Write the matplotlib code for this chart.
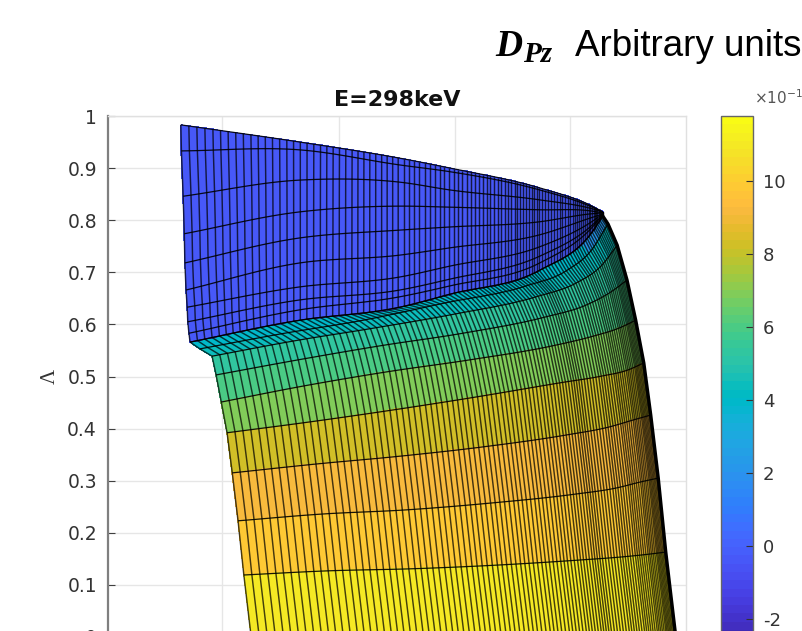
import numpy as np
import matplotlib
matplotlib.use("Agg")
import matplotlib.pyplot as plt
from matplotlib.colors import ListedColormap

# --- values -----------------------------------------------------------
TITLE = "E=298keV"
Y_TICKS = [0, 0.1, 0.2, 0.3, 0.4, 0.5, 0.6, 0.7, 0.8, 0.9, 1]
Y_LABELS = ["0", "0.1", "0.2", "0.3", "0.4", "0.5", "0.6", "0.7", "0.8", "0.9", "1"]
CB_TICKS = [-2, 0, 2, 4, 6, 8, 10]
CMIN, CMAX = -2.75, 11.78

# column positions along each mesh row
columns = [0, .019, .038, .057, .076, .094, .112, .130, .148, .166, .183, .200, .217, .234, .251,
           .267, .283, .299, .315, .331, .346, .361, .376, .391, .406, .420, .434, .448, .462,
           .476, .489, .502, .515, .528, .541, .553, .565, .577, .589, .601, .612, .623, .634,
           .645, .656, .666, .676, .686, .696, .706, .715, .724, .733, .742, .751, .759, .767,
           .775, .783, .791, .798, .805, .812, .819, .826, .832, .838, .844, .850, .857, .864,
           .871, .878, .885, .892, .898, .904, .910, .916, .922, .928, .933, .938, .943, .948,
           .953, .958, .962, .966, .970, .974, .978, .981, .984, .987, .990, .993, .996, .998, 1.0]

# upper (blue) sheet: Lambda of every mesh row at the knots
upper_knots = [0, .282, .519, .637, .851, .969, 1]
upper_x_inner = [.332, .505, .592, .747, .834, .856]
upper_x_left = [.126, .127, .130, .132, .133, .135, .137, .138, .140, .142]
upper_rows = [
    [.983, .950, .919, .900, .862, .829, .816],
    [.933, .935, .906, .893, .858, .827, .816],
    [.846, .877, .873, .858, .839, .823, .816],
    [.774, .816, .827, .825, .820, .818, .814],
    [.718, .766, .781, .787, .797, .812, .814],
    [.666, .718, .733, .747, .772, .804, .812],
    [.633, .672, .691, .712, .749, .795, .812],
    [.605, .647, .666, .687, .731, .787, .810],
    [.583, .628, .653, .674, .718, .782, .810],
    [.566, .608, .633, .658, .704, .772, .808],
]
upper_value = -0.35

# lower (coloured) sheet
lower_knots = [0, .2, .4, .6, .8, .9, .96, 1]
lower_x_left = [.142, .159, .180, .187, .196, .206, .215, .225, .235, .249]
lower_x_right = [.856, .865, .881, .898, .913, .927, .939, .952, .965, .983]
lower_rows = [
    [.566, .595, .622, .656, .689, .724, .768, .808],
    [.553, .582, .608, .641, .674, .704, .743, .793],
    [.539, .568, .593, .620, .653, .680, .712, .752],
    [.503, .532, .559, .583, .614, .637, .662, .685],
    [.451, .482, .509, .532, .559, .578, .593, .608],
    [.392, .413, .436, .461, .488, .501, .512, .526],
    [.315, .332, .347, .365, .388, .403, .417, .426],
    [.223, .236, .244, .257, .274, .286, .298, .305],
    [.119, .127, .131, .138, .148, .154, .159, .163],
    [-.012, -.010, -.009, -.008, -.007, -.006, -.006, -.006],
]
lower_band_values = [3.9, 4.3, 5.4, 6.0, 6.85, 8.3, 9.1, 9.9, 11.0]
tip_sliver_value = 2.2

parula = ListedColormap([
    (.2422, .1504, .6603), (.2504, .1650, .7076), (.2578, .1818, .7511), (.2647, .1978, .7952),
    (.2706, .2147, .8364), (.2751, .2342, .8710), (.2783, .2559, .8991), (.2803, .2782, .9221),
    (.2813, .3006, .9414), (.2810, .3228, .9579), (.2795, .3447, .9717), (.2760, .3667, .9829),
    (.2699, .3892, .9906), (.2602, .4123, .9952), (.2440, .4358, .9988), (.2206, .4603, .9973),
    (.1963, .4847, .9892), (.1834, .5074, .9798), (.1786, .5289, .9682), (.1764, .5499, .9520),
    (.1687, .5703, .9359), (.1540, .5902, .9218), (.1460, .6091, .9079), (.1380, .6276, .8973),
    (.1248, .6459, .8883), (.1113, .6635, .8763), (.0952, .6798, .8598), (.0689, .6948, .8394),
    (.0297, .7082, .8163), (.0036, .7203, .7917), (.0067, .7312, .7660), (.0433, .7411, .7394),
    (.0964, .7500, .7120), (.1408, .7584, .6842), (.1717, .7670, .6554), (.1938, .7758, .6251),
    (.2161, .7843, .5923), (.2470, .7918, .5567), (.2906, .7973, .5188), (.3406, .8008, .4789),
    (.3909, .8029, .4354), (.4456, .8024, .3909), (.5044, .7993, .3480), (.5616, .7942, .3045),
    (.6174, .7876, .2612), (.6720, .7793, .2227), (.7242, .7698, .1910), (.7738, .7598, .1646),
    (.8203, .7498, .1535), (.8634, .7406, .1596), (.9035, .7330, .1774), (.9393, .7288, .2100),
    (.9728, .7298, .2394), (.9956, .7434, .2371), (.9970, .7659, .2199), (.9952, .7893, .2028),
    (.9892, .8136, .1885), (.9786, .8386, .1766), (.9676, .8639, .1643), (.9610, .8890, .1537),
    (.9597, .9135, .1423), (.9628, .9373, .1265), (.9691, .9606, .1064), (.9769, .9839, .0805),
])


def curve(q, knots, values):
    """Smooth Hermite curve through the read knots, to avoid kinks in the mesh rows."""
    k = np.asarray(knots, float)
    v = np.asarray(values, float)
    m = np.gradient(v, k)
    i = np.clip(np.searchsorted(k, q, side="right") - 1, 0, len(k) - 2)
    h = k[i + 1] - k[i]
    t = (q - k[i]) / h
    return ((2 * t**3 - 3 * t**2 + 1) * v[i] + (t**3 - 2 * t**2 + t) * h * m[i]
            + (-2 * t**3 + 3 * t**2) * v[i + 1] + (t**3 - t**2) * h * m[i + 1])


# --- figure ------------------------------------------------------------
W, H = 803, 631
fig = plt.figure(figsize=(W / 100, H / 100), dpi=100)
ax = fig.add_axes([108 / W, (H - 741.2) / H, 578 / W, 625.2 / H])
ax.set_xlim(0, 1)
ax.set_ylim(-0.2, 1)
ax.set_axisbelow(True)
ax.grid(True, color="#e6e6e6", lw=1.0)
ax.set_xticks([.198, .399, .6, .8])
ax.set_xticklabels([])
ax.set_yticks(Y_TICKS)
ax.set_yticklabels(Y_LABELS)
ax.tick_params(axis="both", direction="in", length=5, width=0.8, color="#404040",
               labelcolor="#333333", labelsize=13.5, pad=8)
ax.tick_params(axis="x", length=0)
for side, col, lw in [("left", "#7f7f7f", 1.6), ("top", "#e0e0e0", 1.0),
                      ("right", "#e0e0e0", 1.0), ("bottom", "#7f7f7f", 1.6)]:
    ax.spines[side].set_color(col)
    ax.spines[side].set_linewidth(lw)
ax.set_title(TITLE, fontsize=16, fontweight="bold", color="#111111", pad=7)
ax.text(-0.1, 0.5, "Λ", rotation=90, family="Liberation Serif", fontsize=15,
        color="#333333", ha="center", va="center", transform=ax.get_yaxis_transform())

s = np.array(columns)


def draw_sheet(x, y, c, outer_lw):
    m = ax.pcolormesh(x, y, c, cmap=parula, vmin=CMIN, vmax=CMAX, shading="flat",
                      edgecolors="face", linewidth=0.3, zorder=3)
    ax.plot(x.T, y.T, color="black", lw=0.9, alpha=0.9, zorder=4, solid_capstyle="butt")
    ax.plot(x, y, color="black", lw=1.05, alpha=0.72, zorder=4, solid_capstyle="butt")
    ax.plot(x[:, -1], y[:, -1], color="black", lw=outer_lw, zorder=5)
    return m


# upper sheet
xu = np.array([curve(s, upper_knots, [upper_x_left[i]] + upper_x_inner)
               for i in range(len(upper_rows))])
yu = np.array([curve(s, upper_knots, r) for r in upper_rows])
cu = np.full((len(upper_rows) - 1, len(s) - 1), upper_value)

# lower sheet
xl = np.array([lower_x_left[i] + s * (lower_x_right[i] - lower_x_left[i])
               for i in range(len(lower_rows))])
yl = np.array([curve(s, lower_knots, r) for r in lower_rows])
xl[0], yl[0] = xu[-1], yu[-1]          # both sheets share the arc
cl = np.repeat(np.array(lower_band_values)[:, None], len(s) - 1, axis=1)
cl[0, s[:-1] >= .95] = tip_sliver_value

mesh = draw_sheet(xl, yl, cl, 2.4)
draw_sheet(xu, yu, cu, 0.8)

# colour bar
cax = fig.add_axes([721 / W, (H - 646.6) / H, 32 / W, 530.6 / H])
cb = fig.colorbar(mesh, cax=cax, ticks=CB_TICKS)
cb.ax.set_yticklabels([str(t) for t in CB_TICKS])
cb.ax.tick_params(direction="in", length=5, width=0.8, color="#333333",
                  labelcolor="#333333", labelsize=13, pad=7)
cb.outline.set_edgecolor("#666666")
cb.outline.set_linewidth(1.0)

fig.text(754 / W, 1 - 98 / H, r"$\mathdefault{\times 10^{-1}}$", fontsize=11,
         color="#555555", ha="left", va="center")

# headline above the plot
fig.text(495 / W, 1 - 56 / H, "D", family="Liberation Serif", style="italic", weight="bold",
         fontsize=27, color="black", ha="left", va="baseline")
fig.text(523 / W, 1 - 62 / H, "Pz", family="Liberation Serif", style="italic", weight="bold",
         fontsize=21, color="black", ha="left", va="baseline")
fig.text(802 / W, 1 - 56 / H, "Arbitrary units", family="Liberation Sans", fontsize=26.5,
         color="black", ha="right", va="baseline")

fig.savefig("out.png", dpi=100)
